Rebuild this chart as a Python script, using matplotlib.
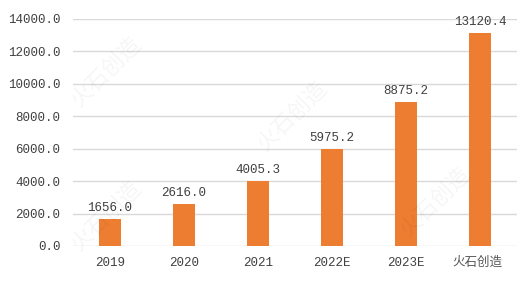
import numpy as np
import matplotlib.pyplot as plt

# 数据
years = ["2019", "2020", "2021", "2022E", "2023E", "2024E"]
values = [1656.0, 2616.0, 4005.3, 5975.2, 8875.2, 13120.4]
yticks = [0, 2000, 4000, 6000, 8000, 10000, 12000, 14000]

bar_color = "#ED7D31"
text_color = "#404040"
mono = "Liberation Mono"

fig = plt.figure(figsize=(5.31, 2.87), dpi=100)
ax = fig.add_axes([73 / 531, 1 - 246 / 287, 444 / 531, 227 / 287])

x = np.arange(len(years))
ax.bar(x, values, width=0.31, color=bar_color, zorder=3)

for xi, v in zip(x, values):
    ax.text(xi, v + 300, f"{v:.1f}", ha="center", va="bottom",
            fontsize=9, family=mono, color=text_color)

ax.set_xlim(-0.5, len(years) - 0.5)
ax.set_ylim(0, 14000)
ax.set_yticks(yticks)
ax.set_yticklabels([f"{t:.1f}" for t in yticks], family=mono, fontsize=9, color=text_color)
ax.set_xticks(x)
ax.set_xticklabels(years[:5] + [""], family=mono, fontsize=9, color=text_color)
ax.tick_params(length=0, pad=8)
ax.tick_params(axis="y", pad=9)
ax.grid(axis="y", color="#D9D9D9", linewidth=1, zorder=0)
for s in ax.spines.values():
    s.set_visible(False)

# 水印
for (wx, wy) in [(0.2, 0.75), (0.55, 0.6), (0.2, 0.25), (0.82, 0.3)]:
    fig.text(wx, wy, "火石创造", rotation=45, fontsize=16, color="#000000", alpha=0.04,
             family=["Noto Sans CJK SC"], ha="center", va="center")

fig.text(452 / 531, 1 - 262 / 287, "火石创造", fontsize=9, color="#555555",
         family=["Noto Sans CJK SC"], ha="left", va="center")

fig.savefig("out.png", dpi=100)
